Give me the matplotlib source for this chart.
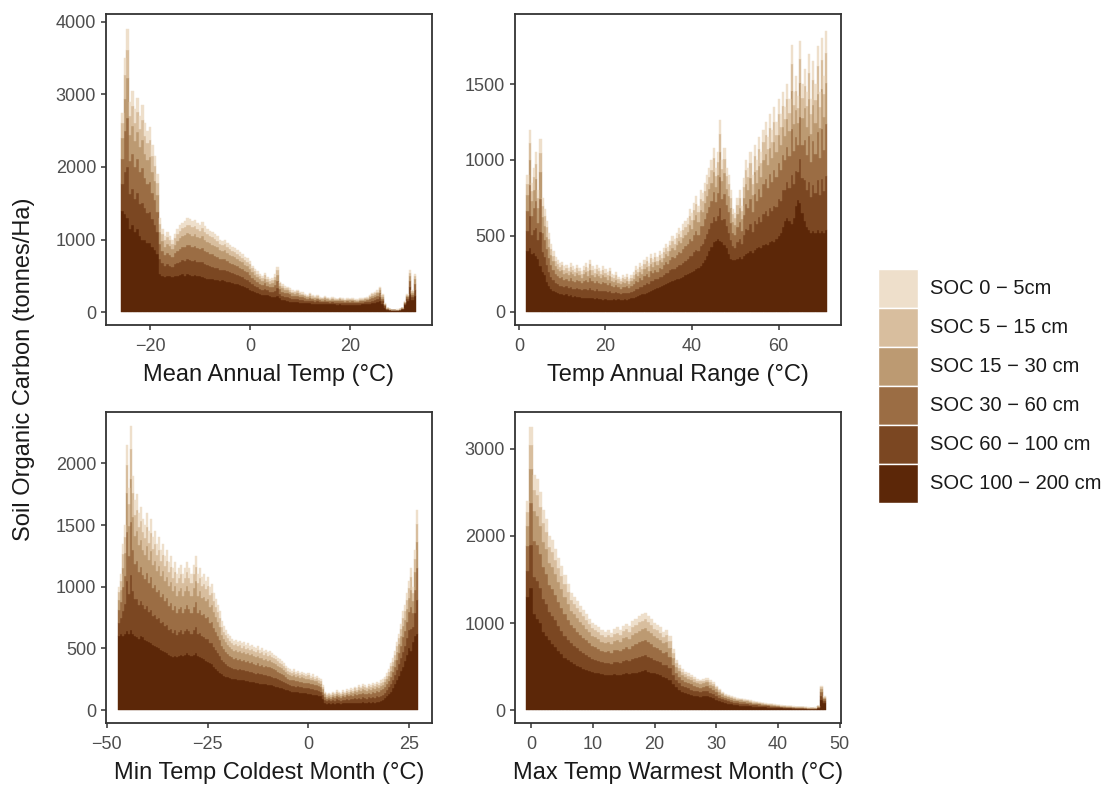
import numpy as np
import matplotlib
matplotlib.use("Agg")
import matplotlib.pyplot as plt
from matplotlib.patches import Rectangle

plt.rcParams['font.family'] = ['Liberation Sans', 'DejaVu Sans']

# ---------------- legend / layers ----------------
layer_names = ["SOC 0 \u2212 5cm", "SOC 5 \u2212 15 cm", "SOC 15 \u2212 30 cm",
               "SOC 30 \u2212 60 cm", "SOC 60 \u2212 100 cm", "SOC 100 \u2212 200 cm"]
layer_colors = ["#EEDFCB", "#D8BE9E", "#BC9A72", "#9B6D44", "#7B4722", "#5C2708"]
# share of (total - deepest layer) held by 60-100, 30-60, 15-30, 5-15, 0-5 cm
upper_layer_share = [0.27, 0.26, 0.21, 0.15, 0.11]

bin_step = 0.5

# ---------------- Panel 1: Mean Annual Temp ----------------
mat_x0 = -25.5
mat_total = [
    2750, 3500, 3900, 2900, 3050, 2800, 2950, 2700, 2850, 2600,
    2500, 2550, 2300, 2150, 1900, 1300, 1150, 1050, 1100, 1050,
    1000, 1080, 1150, 1200, 1230, 1260, 1290, 1280, 1250, 1270,
    1230, 1200, 1240, 1180, 1150, 1120, 1100, 1080, 1050, 1000,
    980, 1000, 950, 920, 900, 880, 850, 830, 800, 760,
    740, 700, 640, 600, 560, 520, 500, 540, 480, 450,
    470, 520, 620, 420, 380, 360, 350, 330, 300, 290,
    310, 280, 270, 250, 240, 260, 230, 220, 230, 210,
    200, 215, 200, 190, 205, 195, 185, 200, 190, 180,
    195, 185, 190, 180, 175, 190, 195, 200, 210, 240,
    260, 280, 300, 350, 250, 120, 60, 40, 30, 30,
    35, 40, 60, 150, 250, 580, 300, 530]
mat_deep = [
    1400, 1350, 1300, 1150, 1200, 1100, 1150, 1050, 1000, 1000,
    950, 950, 900, 850, 800, 520, 500, 480, 500, 490,
    480, 500, 500, 510, 520, 500, 520, 510, 500, 510,
    490, 500, 480, 470, 460, 450, 450, 440, 440, 430,
    440, 430, 420, 410, 400, 390, 380, 370, 360, 340,
    330, 310, 290, 270, 260, 250, 240, 240, 230, 220,
    210, 210, 220, 190, 170, 160, 150, 145, 140, 135,
    135, 130, 125, 120, 118, 120, 115, 112, 115, 110,
    108, 110, 106, 104, 106, 104, 102, 104, 102, 100,
    102, 100, 101, 100, 99, 102, 104, 106, 108, 110,
    120, 130, 140, 150, 110, 60, 28, 25, 24, 24,
    25, 26, 40, 90, 150, 250, 170, 220]

# ---------------- Panel 2: Temp Annual Range ----------------
tar_x0 = 2.0
tar_total = [
    900, 1200, 850, 950, 1050, 800, 1140, 750, 680, 600,
    520, 450, 400, 360, 340, 320, 330, 300, 310, 290,
    320, 300, 280, 310, 290, 270, 300, 320, 290, 340,
    300, 280, 310, 290, 270, 300, 280, 260, 290, 250,
    240, 260, 230, 220, 240, 230, 250, 220, 240, 260,
    300, 280, 320, 300, 340, 360, 320, 380, 350, 390,
    360, 400, 380, 420, 450, 430, 470, 500, 480, 520,
    550, 530, 580, 600, 620, 680, 650, 720, 760, 700,
    800, 780, 850, 900, 950, 1000, 1080, 950, 1050, 1260,
    1000, 1080, 950, 900, 800, 680, 650, 750, 800, 700,
    880, 1000, 950, 1050, 900, 1100, 1000, 1150, 1050, 1200,
    1250, 1150, 1300, 1200, 1350, 1250, 1400, 1300, 1450, 1350,
    1500, 1400, 1760, 1450, 1550, 1420, 1780, 1500, 1600, 1450,
    1700, 1400, 1650, 1500, 1750, 1450, 1800, 1550, 1850]
tar_deep = [
    400, 420, 380, 390, 370, 350, 300, 260, 240, 200,
    170, 150, 140, 130, 125, 120, 115, 110, 115, 105,
    110, 100, 105, 100, 100, 95, 95, 90, 95, 90,
    90, 85, 90, 85, 85, 80, 85, 80, 80, 80,
    85, 80, 85, 80, 80, 85, 80, 85, 90, 95,
    100, 105, 110, 115, 120, 125, 130, 140, 145, 150,
    160, 165, 170, 180, 185, 190, 200, 205, 210, 215,
    220, 225, 230, 240, 250, 255, 260, 270, 280, 290,
    300, 320, 340, 370, 400, 430, 460, 470, 480, 470,
    460, 440, 420, 380, 350, 340, 340, 350, 360, 350,
    370, 380, 390, 400, 390, 410, 420, 430, 420, 440,
    450, 440, 460, 470, 460, 480, 500, 520, 560, 600,
    620, 600, 580, 620, 700, 740, 720, 650, 600, 560,
    540, 520, 530, 520, 540, 520, 530, 520, 540]

# ---------------- Panel 3: Min Temp Coldest Month ----------------
mtc_x0 = -47.0
mtc_total = [
    1000, 1100, 1350, 1500, 2150, 1800, 2300, 1900, 1700, 1750,
    1600, 1650, 1550, 1500, 1600, 1450, 1550, 1400, 1450, 1350,
    1400, 1300, 1350, 1250, 1300, 1200, 1250, 1150, 1200, 1100,
    1150, 1180, 1100, 1150, 1200, 1150, 1100, 1180, 1250, 1100,
    1150, 1080, 1100, 1050, 1080, 1000, 1020, 950, 900, 850,
    800, 720, 680, 650, 620, 600, 580, 560, 570, 550,
    560, 540, 550, 530, 540, 520, 530, 510, 500, 520,
    490, 500, 480, 490, 470, 480, 460, 450, 440, 420,
    410, 400, 380, 360, 340, 330, 320, 330, 310, 320,
    300, 310, 300, 290, 300, 280, 290, 270, 280, 260,
    250, 200, 150, 130, 140, 130, 150, 140, 160, 150,
    140, 160, 150, 170, 160, 180, 170, 190, 180, 200,
    190, 210, 200, 190, 210, 200, 220, 210, 230, 220,
    240, 250, 270, 300, 330, 380, 420, 480, 550, 620,
    700, 800, 850, 950, 1050, 1150, 1000, 1300, 1620]
mtc_deep = [
    600, 620, 600, 620, 640, 620, 650, 620, 600, 590,
    580, 600, 590, 570, 560, 550, 540, 530, 520, 510,
    500, 490, 480, 470, 460, 450, 440, 430, 440, 430,
    440, 450, 440, 450, 460, 450, 440, 450, 460, 440,
    430, 420, 410, 400, 390, 380, 370, 350, 330, 320,
    300, 290, 280, 270, 265, 260, 255, 250, 250, 245,
    245, 240, 240, 235, 235, 230, 230, 225, 220, 220,
    215, 215, 210, 210, 205, 200, 200, 195, 190, 185,
    180, 175, 170, 165, 160, 155, 150, 150, 145, 145,
    140, 140, 135, 135, 130, 130, 125, 125, 120, 115,
    110, 90, 60, 50, 55, 50, 58, 52, 60, 55,
    52, 58, 54, 60, 56, 58, 55, 60, 57, 60,
    58, 62, 60, 56, 62, 58, 64, 60, 66, 62,
    70, 80, 95, 110, 130, 150, 180, 210, 240, 280,
    320, 350, 400, 450, 500, 480, 550, 600, 620]

# ---------------- Panel 4: Max Temp Warmest Month ----------------
mtw_x0 = -0.5
mtw_total = [
    2400, 3250, 2700, 2650, 2500, 2300, 2200, 2000, 1950, 1850,
    1750, 1650, 1550, 1450, 1350, 1300, 1250, 1200, 1150, 1100,
    1050, 1000, 980, 950, 920, 900, 920, 890, 930, 950,
    920, 970, 990, 960, 1020, 1050, 1080, 1100, 1120, 1080,
    1050, 1000, 980, 950, 900, 920, 850, 700, 580, 520,
    470, 440, 420, 400, 380, 360, 350, 360, 370, 340,
    320, 280, 240, 210, 190, 170, 160, 150, 140, 130,
    125, 120, 110, 100, 95, 90, 85, 80, 75, 70,
    65, 60, 55, 50, 48, 45, 42, 40, 38, 35,
    33, 30, 28, 30, 50, 280, 160]
mtw_deep = [
    1300, 1400, 1100, 1050, 1000, 900, 850, 800, 760, 730,
    680, 640, 600, 570, 550, 530, 510, 490, 470, 460,
    450, 440, 430, 420, 410, 400, 405, 400, 410, 405,
    400, 410, 420, 410, 420, 430, 440, 450, 460, 440,
    430, 420, 410, 400, 380, 370, 340, 300, 260, 230,
    210, 195, 185, 175, 165, 160, 155, 160, 165, 150,
    140, 120, 100, 90, 80, 72, 66, 60, 56, 52,
    48, 45, 42, 40, 37, 35, 33, 31, 29, 27,
    25, 23, 21, 20, 19, 18, 17, 16, 15, 14,
    13, 12, 11, 12, 20, 120, 80]

panels = [
    dict(x0=mat_x0, total=mat_total, deep=mat_deep, xlabel="Mean Annual Temp (\u00b0C)",
         xlim=(-28.8, 36.4), ylim=(-179, 4110), xticks=[-20, 0, 20],
         yticks=[0, 1000, 2000, 3000, 4000], pos=[0.0952, 0.5886, 0.2929, 0.3937]),
    dict(x0=tar_x0, total=tar_total, deep=tar_deep, xlabel="Temp Annual Range (\u00b0C)",
         xlim=(-0.9, 74.4), ylim=(-86, 1961), xticks=[0, 20, 40, 60],
         yticks=[0, 500, 1000, 1500], pos=[0.4627, 0.5886, 0.2929, 0.3937]),
    dict(x0=mtc_x0, total=mtc_total, deep=mtc_deep, xlabel="Min Temp Coldest Month (\u00b0C)",
         xlim=(-50.2, 30.6), ylim=(-105, 2417), xticks=[-50, -25, 0, 25],
         yticks=[0, 500, 1000, 1500, 2000], pos=[0.0952, 0.0848, 0.2929, 0.3937]),
    dict(x0=mtw_x0, total=mtw_total, deep=mtw_deep, xlabel="Max Temp Warmest Month (\u00b0C)",
         xlim=(-2.6, 50.2), ylim=(-149, 3425), xticks=[0, 10, 20, 30, 40, 50],
         yticks=[0, 1000, 2000, 3000], pos=[0.4627, 0.0848, 0.2929, 0.3937]),
]

fig = plt.figure(figsize=(11.13, 7.90), dpi=100)
fig.patch.set_facecolor("white")

frame_col = "#333333"
tick_lab_col = "#4D4D4D"

for p in panels:
    ax = fig.add_axes(p["pos"])
    total = np.array(p["total"], dtype=float)
    deep = np.array(p["deep"], dtype=float)
    assert len(total) == len(deep), (p["xlabel"], len(total), len(deep))
    x = p["x0"] + bin_step * np.arange(len(total))
    upper = np.clip(total - deep, 0, None)
    layers = [deep] + [upper * s for s in upper_layer_share]
    cols = layer_colors[::-1]  # deepest first
    base = np.zeros_like(total)
    for h, c in zip(layers, cols):
        ax.bar(x, h, width=bin_step, bottom=base, color=c, edgecolor=c,
               linewidth=0.3, align="center")
        base = base + h
    ax.set_xlim(*p["xlim"])
    ax.set_ylim(*p["ylim"])
    ax.set_xticks(p["xticks"])
    ax.set_yticks(p["yticks"])
    for s in ax.spines.values():
        s.set_color(frame_col)
        s.set_linewidth(1.3)
    ax.tick_params(direction="out", length=3.6, width=1.1, color=frame_col,
                   labelcolor=tick_lab_col, labelsize=13, pad=3.5)
    ax.tick_params(axis="x", pad=5.5)
    ax.set_xlabel(p["xlabel"], fontsize=17, color="#1A1A1A", labelpad=7)

fig.text(0.022, 0.533, "Soil Organic Carbon (tonnes/Ha)", rotation=90,
         ha="center", va="center", fontsize=17, color="#1A1A1A")

# legend (manual, ggplot style)
W, H = 1113.0, 790.0
key_left, key_w, key_h, key_top = 878.0, 40.0, 39.0, 269.0
for i, (name, col) in enumerate(zip(layer_names, layer_colors)):
    y_top = key_top + i * key_h
    fig.patches.append(Rectangle((key_left / W, 1 - (y_top + key_h) / H), key_w / W, key_h / H,
                                 transform=fig.transFigure, facecolor=col,
                                 edgecolor="white", linewidth=1.0))
    fig.text((key_left + key_w + 12) / W, 1 - (y_top + key_h / 2) / H, name,
             ha="left", va="center", fontsize=14.5, color="#1A1A1A")

fig.savefig("out.png", dpi=100, facecolor="white")
